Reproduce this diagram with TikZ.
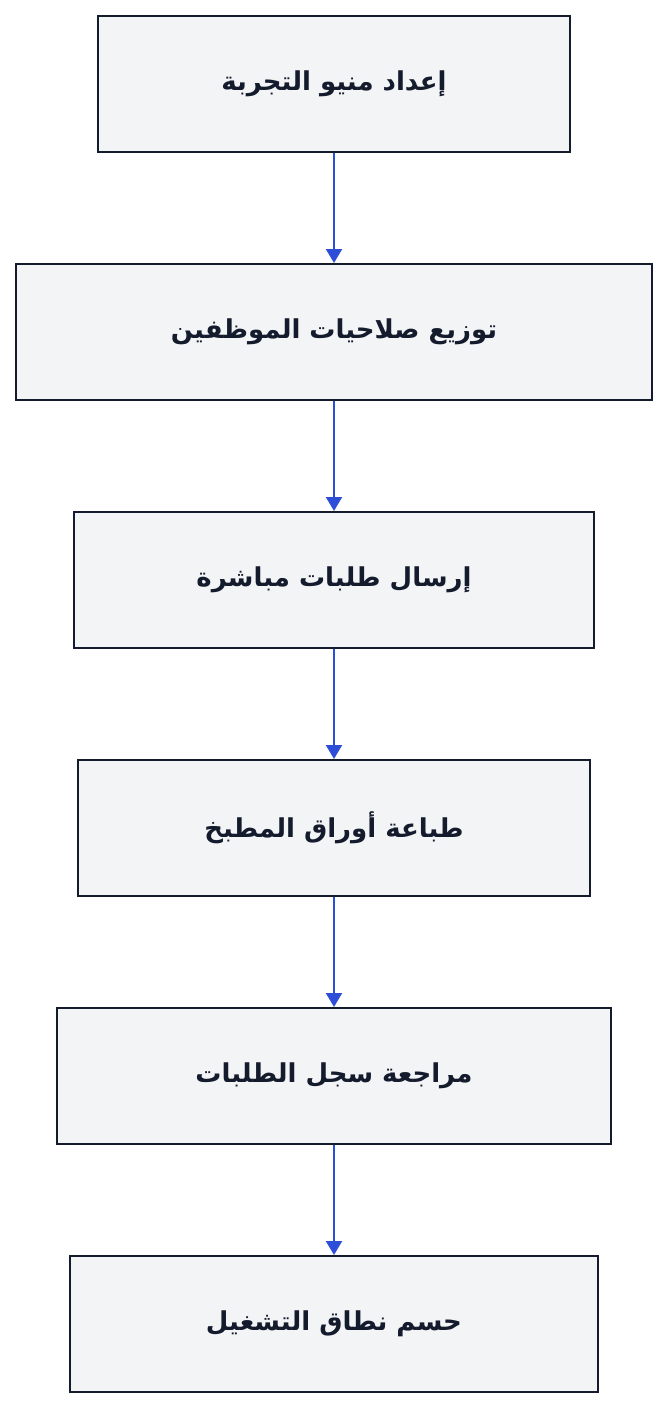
\documentclass[tikz,border=0pt]{standalone}
\usepackage{fontspec}
\TeXXeTstate=1
\newfontfamily\arabicfont[Script=Arabic]{DejaVu Sans}
\usetikzlibrary{arrows.meta}
\definecolor{boxfill}{HTML}{F3F4F6}
\definecolor{boxline}{HTML}{141B2D}
\definecolor{arrowblue}{HTML}{2D4FD8}
\tikzset{
  stepbox/.style={draw=boxline, fill=boxfill, line width=2pt, minimum height=136pt, inner sep=0pt,
    font=\arabicfont\bfseries\fontsize{26}{31}\selectfont, text=boxline},
  flowarrow/.style={draw=arrowblue, line width=2pt, -{Triangle[length=14pt,width=16pt]}}
}
\begin{document}
\begin{tikzpicture}[x=1pt,y=-1pt]
\useasboundingbox (0,0) rectangle (668,1408);
\node[stepbox, minimum width=472pt] (a) at (334,84) {\beginR إعداد منيو التجربة\endR};
\node[stepbox, minimum width=636pt] (b) at (334,332) {\beginR توزيع صلاحيات الموظفين\endR};
\node[stepbox, minimum width=520pt] (c) at (334,580) {\beginR إرسال طلبات مباشرة\endR};
\node[stepbox, minimum width=512pt] (d) at (334,828) {\beginR طباعة أوراق المطبخ\endR};
\node[stepbox, minimum width=554pt] (e) at (334,1076) {\beginR مراجعة سجل الطلبات\endR};
\node[stepbox, minimum width=528pt] (f) at (334,1324) {\beginR حسم نطاق التشغيل\endR};
\draw[flowarrow] (a) -- (b);
\draw[flowarrow] (b) -- (c);
\draw[flowarrow] (c) -- (d);
\draw[flowarrow] (d) -- (e);
\draw[flowarrow] (e) -- (f);
\end{tikzpicture}
\end{document}
